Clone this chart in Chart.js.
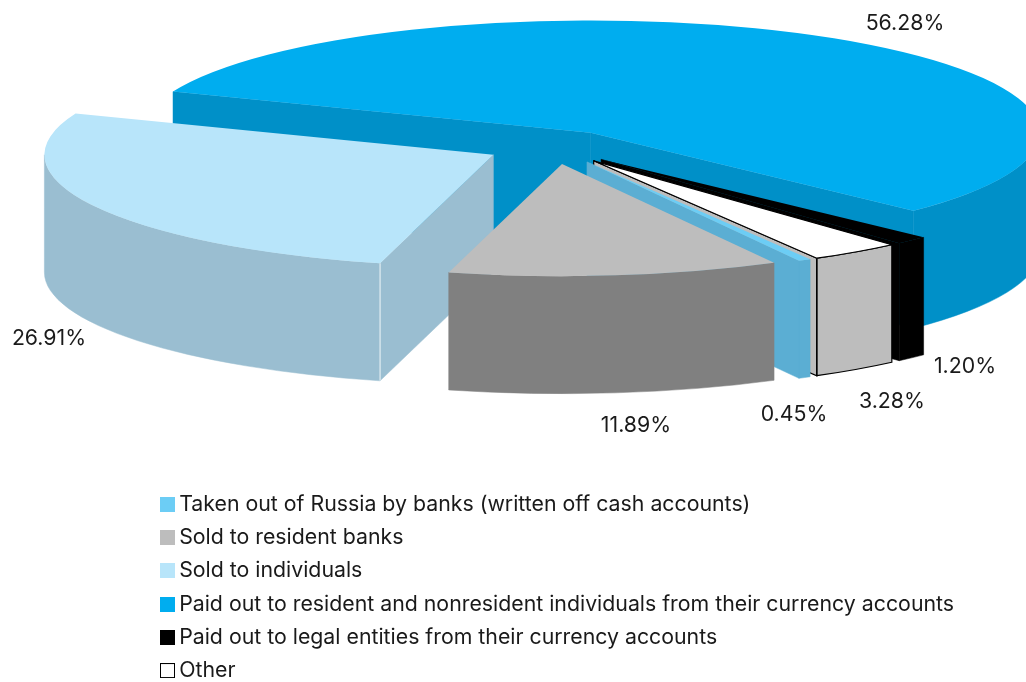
<!DOCTYPE html>
<html>
<head>
<meta charset="utf-8">
<title>Pie</title>
<style>
	html, body { margin: 0; padding: 0; background: #fff; overflow: hidden; }
	canvas { display: block; }
</style>
<script src="https://cdn.jsdelivr.net/npm/chart.js@4/dist/chart.umd.js"></script>
</head>
<body>
<canvas id="chart-cash-use" width="1026" height="682"></canvas>
<script>
// Chart data
const CATEGORIES = [
	"Taken out of Russia by banks (written off cash accounts)",
	"Sold to resident banks",
	"Sold to individuals",
	"Paid out to resident and nonresident individuals from their currency accounts",
	"Paid out to legal entities from their currency accounts",
	"Other",
];
const SHARES = [0.45, 11.89, 26.91, 56.28, 1.2, 3.28];

// Slice styles
const TOP_COLORS = ["#6CCDF5", "#BDBDBD", "#B8E5FA", "#00ADEF", "#000000", "#FFFFFF"];
const WALL_COLORS = ["#5BAED3", "#808080", "#9ABED1", "#0090C8", "#000000", "#BDBDBD"];
const OUTLINE_COLORS = [null, null, null, null, null, "#000000"];
const CORNER_COLORS = [null, null, "#E2EDF2", null, null, "#000000"];
const SWATCH_BORDERS = [null, null, null, null, null, "#000000"];

// Back to front
const DRAW_ORDER = [3, 4, 5, 0, 2, 1];

// Label anchors for the percentages (centre of text)
const LABEL_X = [794, 636, 49, 905, 965, 892];
const LABEL_Y = [414.5, 425.5, 339, 24, 366.5, 401.5];

const SQUASH = 0.25;
const DEPTH = 117.5;
const EXPLODE = 68;
const FONT_FAMILY = "Inter, 'Liberation Sans', sans-serif";
const FONT_SIZE = 21.3;
const TEXT_COLOR = "#1a1a1a";

const facePath = (ctx, x, y, r, angle) => {
	const px = x + Math.cos(angle) * r;
	const py = y + Math.sin(angle) * r * SQUASH;
	ctx.beginPath();
	ctx.moveTo(x, y);
	ctx.lineTo(px, py);
	ctx.lineTo(px, py + DEPTH);
	ctx.lineTo(x, y + DEPTH);
	ctx.closePath();
};

// Flat pie with an extruded rim, each slice pushed out along its own middle
class Pie3DController extends Chart.PieController {
	draw() {
		const ctx = this.chart.ctx;
		const arcs = this.getMeta().data;

		DRAW_ORDER.forEach((i) => {
			const arc = arcs[i];
			const mid = (arc.startAngle + arc.endAngle) / 2;
			const x = arc.x + Math.cos(mid) * EXPLODE;
			const y = arc.y + Math.sin(mid) * EXPLODE * SQUASH;
			this.drawWalls(ctx, arc, x, y, i);

			ctx.save();
			ctx.translate(x, y);
			ctx.scale(1, SQUASH);
			ctx.translate(-arc.x, -arc.y);
			arc.draw(ctx);
			ctx.restore();

			if (OUTLINE_COLORS[i]) {
				ctx.save();
				ctx.strokeStyle = OUTLINE_COLORS[i];
				ctx.lineWidth = 1.2;
				ctx.beginPath();
				ctx.moveTo(x, y);
				ctx.ellipse(x, y, arc.outerRadius, arc.outerRadius * SQUASH, 0, arc.startAngle, arc.endAngle);
				ctx.closePath();
				ctx.stroke();
				ctx.restore();
			}
		});
	}

	drawWalls(ctx, arc, x, y, i) {
		const r = arc.outerRadius;
		const a0 = arc.startAngle;
		const a1 = arc.endAngle;
		ctx.save();
		ctx.fillStyle = WALL_COLORS[i];
		ctx.strokeStyle = OUTLINE_COLORS[i] || WALL_COLORS[i];
		ctx.lineWidth = OUTLINE_COLORS[i] ? 1.2 : 0.5;

		// Radial faces turned to the viewer
		if (Math.cos(a0) < 0) {
			facePath(ctx, x, y, r, a0);
			ctx.fill();
			ctx.stroke();
		}
		if (Math.cos(a1) > 0) {
			facePath(ctx, x, y, r, a1);
			ctx.fill();
			ctx.stroke();
		}

		// Outer rim, front half of the ellipse only
		[0, 2 * Math.PI].forEach((start) => {
			const lo = Math.max(a0, start);
			const hi = Math.min(a1, start + Math.PI);
			if (hi <= lo) {
				return;
			}
			ctx.beginPath();
			ctx.ellipse(x, y, r, r * SQUASH, 0, lo, hi);
			ctx.ellipse(x, y + DEPTH, r, r * SQUASH, 0, hi, lo, true);
			ctx.closePath();
			ctx.fill();
			ctx.stroke();
		});

		// Vertical corner line between rim and face
		if (CORNER_COLORS[i]) {
			const corner = Math.cos(a0) < 0 ? a0 : a1;
			const cx = x + Math.cos(corner) * r;
			const cy = y + Math.sin(corner) * r * SQUASH;
			ctx.strokeStyle = CORNER_COLORS[i];
			ctx.lineWidth = 1.2;
			ctx.beginPath();
			ctx.moveTo(cx, cy);
			ctx.lineTo(cx, cy + DEPTH);
			ctx.stroke();
		}
		ctx.restore();
	}
}
Pie3DController.id = "pie3d";
Chart.register(Pie3DController);

const makeSwatch = (fill, border) => {
	const swatch = document.createElement("canvas");
	swatch.width = 15;
	swatch.height = 15;
	const c = swatch.getContext("2d");
	c.fillStyle = fill;
	c.fillRect(0, 0, 15, 15);
	if (border) {
		c.strokeStyle = border;
		c.lineWidth = 1;
		c.strokeRect(0.5, 0.5, 14, 14);
	}
	return swatch;
};
const SWATCHES = TOP_COLORS.map((color, i) => makeSwatch(color, SWATCH_BORDERS[i]));

// Moves the legend to its spot under the pie
const legendPlacer = {
	id: "legendPlacer",
	afterLayout(chart) {
		const legend = chart.legend;
		legend.left = 154.6;
		legend.top = 482;
		legend.right = 1026;
		legend.bottom = 760;
		legend.adjustHitBoxes();
	},
};

const shareLabels = {
	id: "shareLabels",
	afterDraw(chart) {
		const ctx = chart.ctx;
		ctx.save();
		ctx.font = `${FONT_SIZE}px ${FONT_FAMILY}`;
		ctx.fillStyle = TEXT_COLOR;
		ctx.textAlign = "center";
		ctx.textBaseline = "middle";
		SHARES.forEach((share, i) => {
			ctx.fillText(share.toFixed(2) + "%", LABEL_X[i], LABEL_Y[i]);
		});
		ctx.restore();
	},
};

new Chart(document.getElementById("chart-cash-use"), {
	type: "pie3d",
	data: {
		labels: CATEGORIES,
		datasets: [
			{
				data: SHARES,
				backgroundColor: TOP_COLORS,
				borderWidth: 0,
				clip: false,
			},
		],
	},
	options: {
		responsive: false,
		animation: false,
		radius: 449,
		rotation: 150.2,
		layout: {
			padding: { left: 82, right: 0, top: 0, bottom: 388 },
		},
		plugins: {
			tooltip: { enabled: false },
			legend: {
				position: "chartArea",
				align: "start",
				labels: {
					usePointStyle: true,
					boxWidth: 2,
					pointStyleWidth: 2,
					padding: 11.9,
					color: TEXT_COLOR,
					font: { family: FONT_FAMILY, size: FONT_SIZE },
					generateLabels: (chart) =>
						Chart.overrides.doughnut.plugins.legend.labels
							.generateLabels(chart)
							.map((item, i) => ({ ...item, pointStyle: SWATCHES[i] })),
				},
			},
		},
	},
	plugins: [legendPlacer, shareLabels],
});
</script>
</body>
</html>
